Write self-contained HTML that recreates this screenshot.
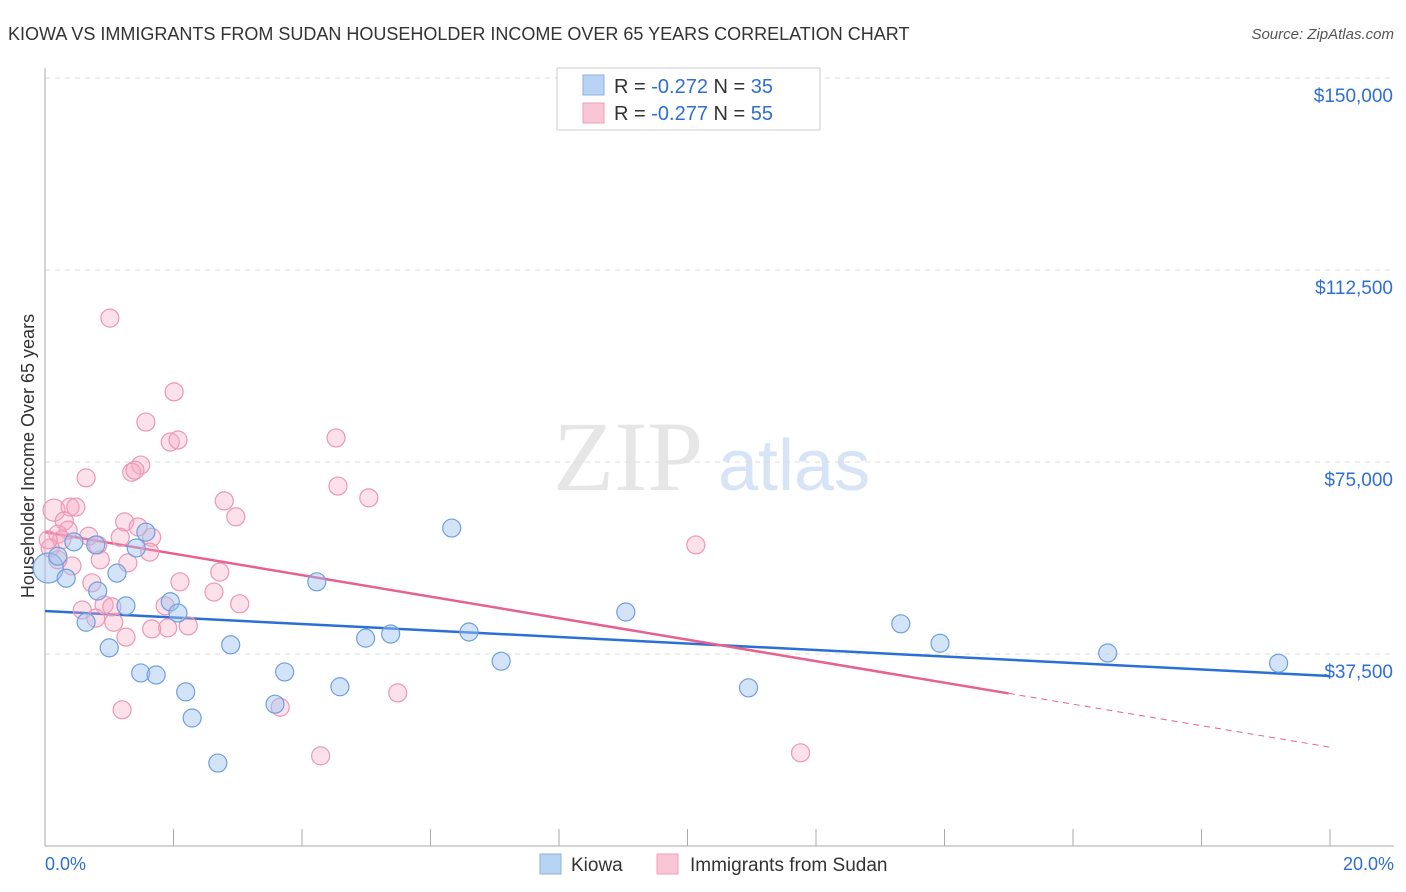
<!DOCTYPE html>
<html><head><meta charset="utf-8"><style>
body{margin:0;background:#fff;font-family:"Liberation Sans",sans-serif;}
svg{display:block}
</style></head><body>
<svg id="chart" width="1406" height="892" xmlns="http://www.w3.org/2000/svg">
<text x="8" y="40" font-size="18" fill="#333">KIOWA VS IMMIGRANTS FROM SUDAN HOUSEHOLDER INCOME OVER 65 YEARS CORRELATION CHART</text>
<text x="1394" y="39" font-size="15" fill="#555" font-style="italic" text-anchor="end">Source: ZipAtlas.com</text>
<g>
<text x="553" y="490" font-size="100" font-family="Liberation Serif,serif" fill="#e6e6e6">ZIP</text>
<text x="718" y="490" font-size="72" fill="#d6e4f5">atlas</text>
</g>
<g id="grid"></g>
<g id="axes"></g>
<text transform="translate(34,456) rotate(-90)" font-size="18" fill="#333" text-anchor="middle">Householder Income Over 65 years</text>
<g id="lines"></g>
<g id="points"></g>
<g>
<rect x="557" y="68" width="263" height="62" fill="#fff" stroke="#ccc"/>
<rect x="583" y="75" width="21" height="20" fill="#b9d3f4" stroke="#8ab0e4"/>
<text x="614" y="93" font-size="20" fill="#333">R = <tspan fill="#2e6fd0">-0.272</tspan>   N = <tspan fill="#2e6fd0">35</tspan></text>
<rect x="583" y="103" width="21" height="20" fill="#f9c6d6" stroke="#eca0b8"/>
<text x="614" y="120" font-size="20" fill="#333">R = <tspan fill="#2e6fd0">-0.277</tspan>   N = <tspan fill="#2e6fd0">55</tspan></text>
</g>
<g>
<rect x="540" y="854" width="21" height="20" fill="#b9d3f4" stroke="#8ab0e4"/>
<text x="571" y="871" font-size="19" fill="#333">Kiowa</text>
<rect x="657" y="854" width="21" height="20" fill="#f9c6d6" stroke="#eca0b8"/>
<text x="690" y="871" font-size="19" fill="#333">Immigrants from Sudan</text>
</g>
<text x="45" y="870" font-size="18" fill="#2e6fd0">0.0%</text>
<text x="1394" y="870" font-size="18" fill="#2e6fd0" text-anchor="end">20.0%</text>
</svg>
<script>
const yTicks=[37500,75000,112500,150000];
const yTickLabels=["$37,500","$75,000","$112,500","$150,000"];
const xTicks=[0,2,4,6,8,10,12,14,16,18,20];
const kiowaX=[0.05,0.2,0.33,0.45,0.64,0.82,0.79,1.0,1.12,1.26,1.42,1.49,1.57,1.73,1.95,2.07,2.19,2.29,2.69,2.89,3.58,3.73,4.23,4.59,4.99,5.38,6.33,6.6,7.1,9.04,10.95,13.32,13.93,16.54,19.2];
const kiowaY=[54300,56600,52300,59400,43700,49800,58800,38700,53300,46900,58200,33800,61300,33400,47700,45500,30100,25000,16200,39300,27700,34000,51600,31100,40600,41400,62100,41800,36100,45700,30900,43400,39600,37700,35700];
const sudanX=[1.01,2.01,1.57,1.95,2.07,4.53,1.49,1.35,1.40,0.64,4.56,5.04,2.79,0.14,0.39,0.48,2.97,0.30,1.24,0.36,0.20,0.68,0.82,1.17,1.66,1.45,0.26,1.63,10.13,0.42,1.29,0.73,2.10,2.72,2.63,0.58,0.92,3.03,1.87,0.79,1.07,1.26,2.23,1.91,1.66,1.04,0.08,5.49,3.66,1.20,4.29,11.76,0.05,0.2,0.86];
const sudanY=[103100,88700,82800,78900,79300,79700,74400,73000,73400,71900,70300,68000,67400,65600,66200,66200,64300,63500,63300,61700,60900,60500,58800,60300,60300,62300,59800,57400,58800,54700,55300,51400,51600,53500,49600,46100,47100,47300,46900,44500,43700,40800,43000,42600,42400,46700,58200,29900,27100,26600,17600,18200,59800,55900,55900];
const kiowaTrend=[45900,33200];
const sudanTrend=[61300,19300];
const sudanSolidEnd=15;
const NS="http://www.w3.org/2000/svg";
function sx(v){return 45+v/20*1285;}
function sy(v){return 846-v/37500*192;}
function mk(tag,attrs,parent){const e=document.createElementNS(NS,tag);for(const k in attrs)e.setAttribute(k,attrs[k]);parent.appendChild(e);return e;}
const grid=document.getElementById('grid'),axes=document.getElementById('axes');
yTicks.forEach((t,i)=>{
 const l=mk('line',{x1:45,x2:1394,y1:sy(t),y2:sy(t),stroke:'#ddd','stroke-dasharray':'5,5'},grid);
 
 
 const tx=mk('text',{x:1393,y:sy(t)+24,'font-size':19,fill:'#2e6fd0','text-anchor':'end'},axes);
 tx.textContent=yTickLabels[i];
 
 
});
const ya=mk('line',{x1:45,x2:45,y1:68,y2:846,stroke:'#aaa'},axes);


const xa=mk('line',{x1:45,x2:1394,y1:846,y2:846,stroke:'#aaa'},axes);


xTicks.forEach(t=>{
 const l=mk('line',{x1:sx(t),x2:sx(t),y1:829,y2:846,stroke:'#aaa'},axes);
 
 
});
const lines=document.getElementById('lines');
const bl=mk('line',{x1:sx(0),y1:sy(kiowaTrend[0]),x2:sx(20),y2:sy(kiowaTrend[1]),stroke:'#2a6fd6','stroke-width':2.5},lines);


const pe=sudanTrend[0]+(sudanTrend[1]-sudanTrend[0])*sudanSolidEnd/20;
const pl=mk('line',{x1:sx(0),y1:sy(sudanTrend[0]),x2:sx(sudanSolidEnd),y2:sy(pe),stroke:'#e8608e','stroke-width':2.5},lines);


const pd=mk('line',{x1:sx(sudanSolidEnd),y1:sy(pe),x2:sx(20),y2:sy(sudanTrend[1]),stroke:'#e8608e','stroke-width':1,'stroke-dasharray':'6,5'},lines);


const pts=document.getElementById('points');
sudanX.forEach((x,i)=>{
 const c=mk('circle',{cx:sx(x),cy:sy(sudanY[i]),r:i===13?11:9,fill:'rgba(246,170,196,0.35)',stroke:'#ec97b4','stroke-width':1.2},pts);
 
 
});
kiowaX.forEach((x,i)=>{
 const c=mk('circle',{cx:sx(x),cy:sy(kiowaY[i]),r:i===0?15:9,fill:'rgba(160,196,240,0.45)',stroke:'#6f9fe0','stroke-width':1.2},pts);
 
 
});
</script>
</body></html>
